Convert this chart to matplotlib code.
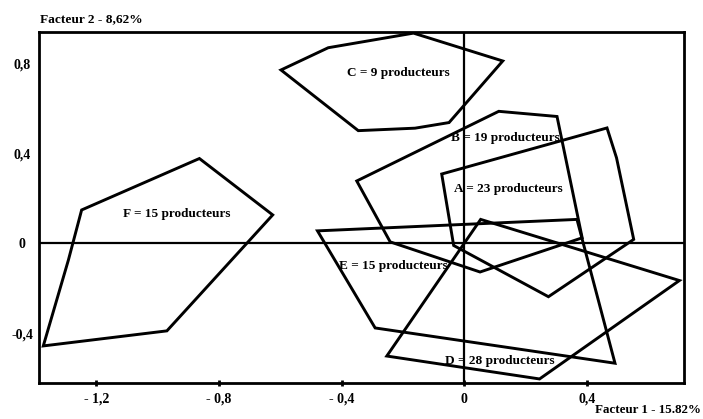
import numpy as np
import matplotlib.pyplot as plt
from matplotlib.patches import Polygon

# group outlines on the factorial plane (Facteur 1, Facteur 2)
poly_A = [(-0.074, 0.308), (0.465, 0.513), (0.496, 0.380), (0.552, 0.017), (0.274, -0.238), (-0.035, -0.010)]
poly_B = [(-0.351, 0.277), (0.112, 0.587), (0.302, 0.564), (0.384, 0.024), (0.051, -0.128), (-0.242, 0.006)]
poly_C = [(-0.598, 0.771), (-0.444, 0.870), (-0.166, 0.935), (0.125, 0.811), (-0.050, 0.537), (-0.161, 0.512), (-0.346, 0.501)]
poly_D = [(0.053, 0.106), (0.701, -0.166), (0.245, -0.604), (-0.253, -0.502)]
poly_E = [(-0.479, 0.055), (0.367, 0.106), (0.491, -0.534), (-0.291, -0.377)]
poly_F = [(-1.248, 0.148), (-0.864, 0.377), (-0.625, 0.126), (-0.970, -0.390), (-1.373, -0.457), (-1.291, -0.074)]

group_names = ['A = 23 producteurs', 'B = 19 producteurs', 'C = 9 producteurs',
               'D = 28 producteurs', 'E = 15 producteurs', 'F = 15 producteurs']
label_x = [0.143, 0.134, -0.215, 0.117, -0.231, -0.937]
label_y = [0.242, 0.469, 0.757, -0.522, -0.101, 0.130]

x_ticks = [-1.2, -0.8, -0.4, 0, 0.4]
x_tick_labels = ['- 1,2', '- 0,8', '- 0,4', '0', '0,4']
y_ticks = [-0.4, 0, 0.4, 0.8]
y_tick_labels = ['-0,4', '0', '0,4', '0,8']

plt.rcParams['font.family'] = ['Liberation Serif', 'DejaVu Serif']
plt.rcParams['font.weight'] = 'bold'

fig = plt.figure(figsize=(7.03, 4.19), dpi=100)
ax = fig.add_axes([39 / 703, 1 - 383 / 419, (684 - 39) / 703, (383 - 32) / 419])

for pts in [poly_A, poly_B, poly_C, poly_D, poly_E, poly_F]:
    ax.add_patch(Polygon(pts, closed=True, fill=False, edgecolor='black', linewidth=2.1, joinstyle='miter'))

for name, lx, ly in zip(group_names, label_x, label_y):
    ax.text(lx, ly, name, ha='center', va='center', fontsize=9.5, fontweight='bold')

ax.axhline(0, color='black', linewidth=1.6)
ax.axvline(0, color='black', linewidth=1.6)

ax.set_xlim(-1.387, 0.716)
ax.set_ylim(-0.622, 0.94)

ax.set_xticks(x_ticks)
ax.set_xticklabels(x_tick_labels, fontsize=10, fontweight='bold')
ax.set_yticks(y_ticks)
ax.set_yticklabels(y_tick_labels, fontsize=10, fontweight='bold', ha='center')
ax.tick_params(axis='x', direction='inout', length=5, width=2, pad=4.5)
ax.tick_params(axis='y', length=0, pad=12)
for s in ax.spines.values():
    s.set_linewidth(2)

fig.text(40 / 703, 1 - 19 / 419, 'Facteur 2 - 8,62%', ha='left', va='center', fontsize=9.6, fontweight='bold')
fig.text(701 / 703, 1 - 410 / 419, 'Facteur 1 - 15.82%', ha='right', va='center', fontsize=9.4, fontweight='bold')

plt.savefig('out.png', dpi=100)
